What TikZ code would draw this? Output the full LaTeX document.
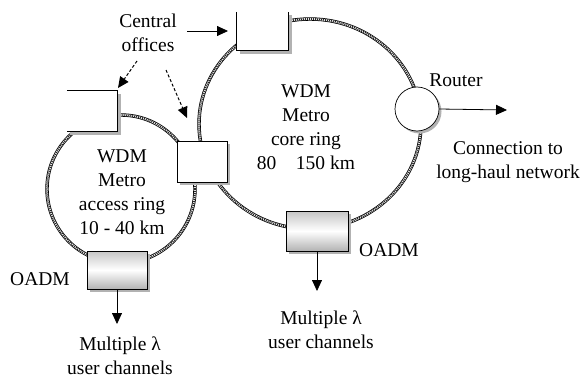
\documentclass[tikz,border=0pt]{standalone}
\usepackage{fontspec}
\setmainfont{Liberation Serif}
\usetikzlibrary{arrows.meta,calc}
\begin{document}
\begin{tikzpicture}[x=1pt,y=-1pt,
  every node/.style={font=\fontsize{19.5}{24}\selectfont},
  lbl/.style={align=center, inner sep=0pt},
  rope/.style={draw=black, line width=3.4pt,
    postaction={draw=white, line width=1.8pt},
    postaction={draw=black!85, line width=1.8pt, dash pattern=on 1pt off 1pt}},
  cobox/.style={draw=black, line width=0.8pt, fill=white, inner sep=0pt},
  coopen/.style={fill=white, inner sep=0pt},
  oadm/.style={draw=black, line width=0.8pt, top color=gray!45, bottom color=gray!60, middle color=white, inner sep=0pt},
  shadowc/.style={fill=gray!60},
  shline/.style={draw=gray!60, line width=2.6pt},
  edge/.style={draw=black, line width=0.8pt},
  arr/.style={line width=0.8pt, -{Triangle[length=11pt,width=10pt]}},
  darr/.style={arr, line width=1pt, dash pattern=on 3pt off 2pt},
]
\useasboundingbox (0,0) rectangle (585,380);

% rings
\draw[rope] (121,189) circle[radius=74];
\draw[rope] (310,124) ellipse[x radius=111, y radius=105];

% shadows
\fill[shadowc] (180,144) rectangle (230,185);
\draw[shline] (119.5,94) -- (119.5,133.5) -- (70,133.5);
\draw[shline] (290.5,15) -- (290.5,52.5) -- (240,52.5);
\fill[shadowc] (90,254) rectangle (150,292);
\fill[shadowc] (289,214) rectangle (351,254);
\fill[shadowc] (419.5,111.5) circle[radius=22];

% central offices
\node[cobox, minimum width=50pt, minimum height=41pt] (mid) at (202,161.5) {};
\node[coopen, minimum width=50pt, minimum height=40pt] (lco) at (92,111) {};
\draw[edge] (lco.north west) -- (lco.north east) -- (lco.south east) -- (lco.south west);
\node[coopen, minimum width=51pt, minimum height=38pt] (tco) at (262.5,31) {};
\draw[edge] (tco.north west) -- (tco.south west) -- (tco.south east) -- (tco.north east);

% OADMs
\node[oadm, minimum width=60pt, minimum height=38pt] (loadm) at (117,270) {};
\node[oadm, minimum width=62pt, minimum height=40pt] (coadm) at (317,231) {};

% router
\node[circle, draw=black, line width=0.7pt, fill=white, minimum size=44pt, inner sep=0pt] (rt) at (417,109) {};

% labels
\node[lbl] (col) at (148,33) {Central\\offices};
\node[lbl] (corel) at (306,127) {WDM\\Metro\\core ring\\80\hspace{1em}150 km};
\node[lbl] (accl) at (122,192) {WDM\\Metro\\access ring\\10 - 40 km};
\node[lbl] (rtl) at (456,80) {Router};
\node[lbl] (conn) at (508,162.5) {Connection to\\long-haul network};
\node[lbl] (loadml) at (40,279) {OADM};
\node[lbl] (coadml) at (389,250) {OADM};
\node[lbl] (lch) at (120,356) {Multiple λ\\user channels};
\node[lbl] (cch) at (321,330) {Multiple λ\\user channels};

% arrow end points
\coordinate (a1s) at (187,31);
\coordinate (a1e) at (228,31);
\coordinate (d1s) at (137,61);
\coordinate (d1e) at (118,88);
\coordinate (d2s) at (166,70);
\coordinate (d2e) at (187,118);
\coordinate (rte) at (507,110);
\coordinate (lte) at (117,324);
\coordinate (cte) at (317,291);

% arrows
\draw[arr] (a1s) -- (a1e);
\draw[darr] (d1s) -- (d1e);
\draw[darr] (d2s) -- (d2e);
\draw[arr] (rt.east) -- (rte);
\draw[arr] (loadm.south) -- (lte);
\draw[arr] (coadm.south) -- (cte);
\end{tikzpicture}
\end{document}
